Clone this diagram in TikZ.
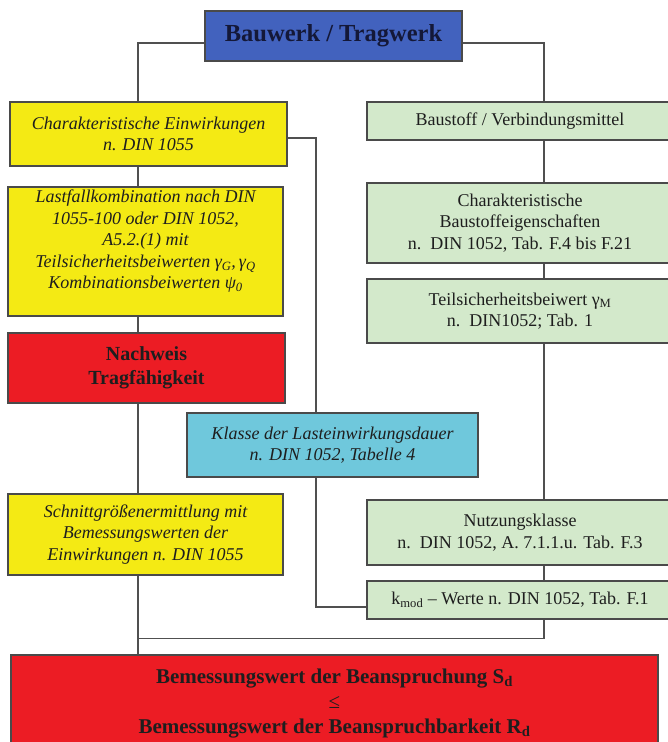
\documentclass[tikz,border=0pt]{standalone}
\usepackage{fontspec}
\setmainfont{Liberation Serif}
\usetikzlibrary{backgrounds}
\definecolor{cblue}{HTML}{4262BE}
\definecolor{cnavy}{HTML}{141838}
\definecolor{cyellow}{HTML}{F4EA14}
\definecolor{cred}{HTML}{EC1C24}
\definecolor{cgreen}{HTML}{D3E9CB}
\definecolor{ccyan}{HTML}{6FC8DC}
\definecolor{boxline}{HTML}{4A4A4A}
\definecolor{linec}{HTML}{505050}
\definecolor{textc}{HTML}{1E1E1E}
\begin{document}
\begin{tikzpicture}[x=1pt,y=-1pt,
  box/.style={draw=boxline, line width=1.2pt, inner sep=0pt, align=center,
    font=\fontsize{18}{21.5}\selectfont, text=textc},
  itbox/.style={box, font=\fontsize{18}{21.5}\selectfont\itshape},
  txt/.style={inner sep=0pt, align=center, font=\fontsize{18}{21.5}\selectfont\itshape, text=textc},
  conn/.style={draw=linec, line width=1.3pt}]
\useasboundingbox (0,0) rectangle (668,742);
\coordinate (L) at (138,0);
\coordinate (M) at (316,0);
\coordinate (R) at (544,0);
% top
\node[box, fill=cblue, minimum width=257pt, minimum height=50pt,
  font=\fontsize{24.5}{28}\selectfont\bfseries, text=cnavy] (bau) at (333.5,36) {Bauwerk / Tragwerk};
% left column
\node[itbox, fill=cyellow, minimum width=277pt, minimum height=64pt] (ce) at (148.5,134)
  {Charakteristische Einwirkungen\\n. DIN 1055};
\node[box, fill=cyellow, minimum width=275pt, minimum height=129pt] (lf) at (145.5,251.5) {};
\node[txt] (lft) at ([yshift=10pt]lf.center)
  {Lastfallkombination nach DIN\\1055-100 oder DIN 1052,\\A5.2.(1) mit\\
   Teilsicherheitsbeiwerten γ\textsubscript{G},\,γ\textsubscript{Q}\\
   Kombinationsbeiwerten ψ\textsubscript{0}};
\node[box, fill=cred, minimum width=277pt, minimum height=70pt,
  font=\fontsize{20}{24}\selectfont\bfseries] (nw) at (146.5,368) {Nachweis\\Tragfähigkeit};
\node[itbox, fill=cyellow, minimum width=275pt, minimum height=81pt] (sg) at (145.5,534.5)
  {Schnittgrößenermittlung mit\\Bemessungswerten der\\Einwirkungen n. DIN 1055};
% middle
\node[itbox, fill=ccyan, minimum width=291pt, minimum height=64pt] (kl) at (332.5,445)
  {Klasse der Lasteinwirkungsdauer\\n. DIN 1052, Tabelle 4};
% right column
\node[box, fill=cgreen, minimum width=306pt, minimum height=38pt] (bs) at (520,121)
  {Baustoff / Verbindungsmittel};
\node[box, fill=cgreen, minimum width=306pt, minimum height=80pt] (cb) at (520,223)
  {Charakteristische\\Baustoffeigenschaften\\n.\ \ DIN 1052, Tab. F.4 bis F.21};
\node[box, fill=cgreen, minimum width=306pt, minimum height=64pt] (ts) at (520,311)
  {Teilsicherheitsbeiwert γ\textsubscript{M}\\n.\ \ DIN1052; Tab. 1};
\node[box, fill=cgreen, minimum width=306pt, minimum height=65pt] (nk) at (520,532.5)
  {Nutzungsklasse\\n.\ \ DIN 1052, A. 7.1.1.u. Tab. F.3};
\node[box, fill=cgreen, minimum width=306pt, minimum height=38pt] (km) at (520,600)
  {k\textsubscript{mod} – Werte n. DIN 1052, Tab. F.1};
% bottom
\node[box, fill=cred, minimum width=647pt, minimum height=97pt,
  font=\fontsize{21}{25}\selectfont\bfseries] (bm) at (334.5,703.5)
  {Bemessungswert der Beanspruchung S\textsubscript{d}\\{\mdseries ≤}\\Bemessungswert der Beanspruchbarkeit R\textsubscript{d}};
\coordinate (kmw) at ([yshift=-7pt]km.west);
\coordinate (bmt) at ([yshift=16pt]bm.north);
% connectors
\begin{scope}[on background layer]
\draw[conn] ([yshift=-7pt]bau.west) -| (L |- ce.north);
\draw[conn] ([yshift=-7pt]bau.east) -| (R |- bs.north);
\draw[conn] (L |- ce.south) -- (L |- lf.north);
\draw[conn] (L |- lf.south) -- (L |- nw.north);
\draw[conn] (L |- nw.south) -- (L |- sg.north);
\draw[conn] (L |- sg.south) -- (L |- bm.north);
\draw[conn] ([yshift=-4pt]ce.east) -| (M |- kmw) -- (kmw);
\draw[conn] (R |- bs.south) -- (R |- cb.north);
\draw[conn] (R |- cb.south) -- (R |- ts.north);
\draw[conn] (R |- ts.south) -- (R |- nk.north);
\draw[conn] (R |- nk.south) -- (R |- km.north);
\draw[conn] (R |- km.south) |- (L |- bmt);
\end{scope}
\end{tikzpicture}
\end{document}
